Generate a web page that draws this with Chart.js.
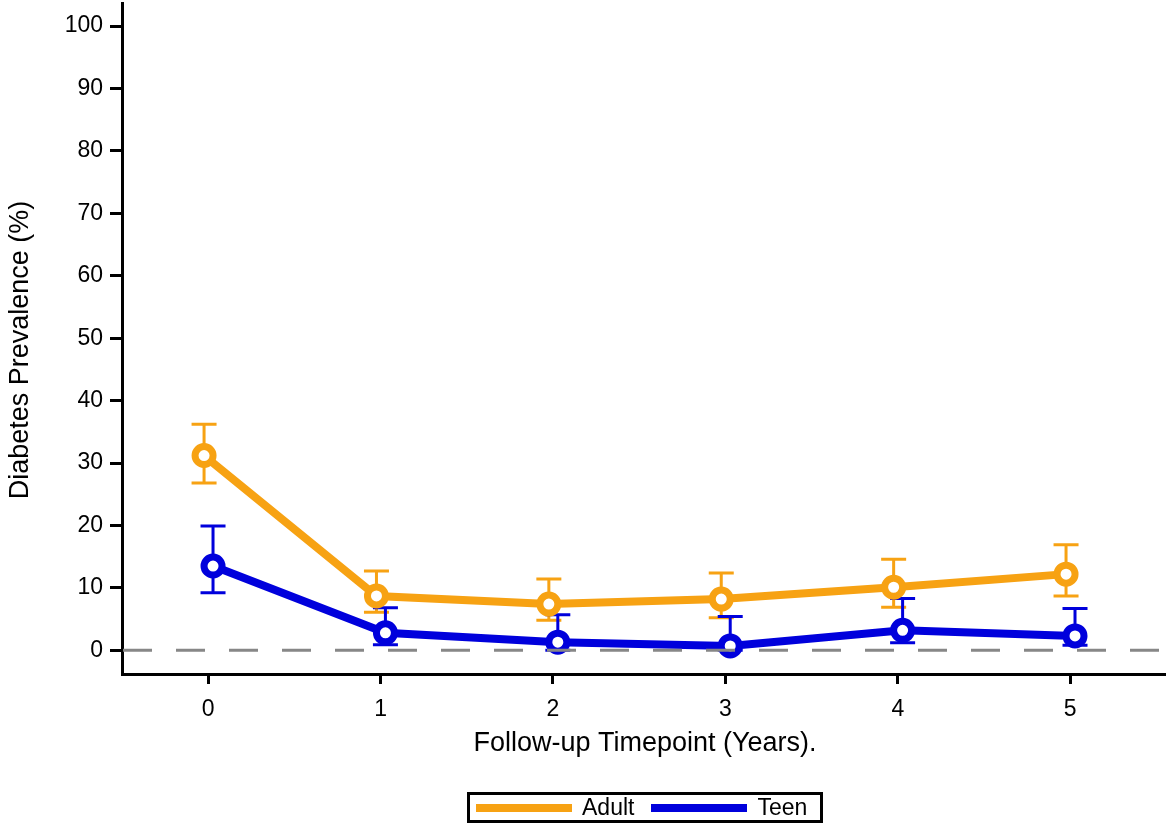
<!DOCTYPE html>
<html>
<head>
<meta charset="utf-8">
<script src="https://cdn.jsdelivr.net/npm/chart.js@4"></script>
<style>
  html, body { margin: 0; padding: 0; background: #fff; }
  #wrap { position: relative; width: 1168px; height: 825px; }
  #legend {
    position: absolute; left: 467px; top: 792px; width: 350px; height: 25px;
    border: 3px solid #000; box-sizing: content-box;
    font: 23px "Liberation Sans", Arial, sans-serif; color: #000;
    display: flex; align-items: center;
  }
  #legend .item { display: flex; align-items: center; margin-left: 17px; }
  #legend .item:first-child { margin-left: 6px; }
  #legend .swatch { width: 96px; height: 8px; margin-right: 10px; }
</style>
</head>
<body>
<div id="wrap">
  <canvas id="chart" width="1168" height="825"></canvas>
  <div id="legend"></div>
</div>
<script>
// follow-up timepoints (years)
const timepoints = [0, 1, 2, 3, 4, 5];
const yTicks = [0, 10, 20, 30, 40, 50, 60, 70, 80, 90, 100];

// Adult prevalence (%) with 95% CI
const adultPrev = [31.2, 8.7, 7.4, 8.2, 10.1, 12.2];
const adultLow  = [26.8, 6.1, 4.8, 5.2, 6.9, 8.7];
const adultHigh = [36.2, 12.7, 11.4, 12.4, 14.6, 16.9];

// Teen prevalence (%) with 95% CI
const teenPrev = [13.5, 2.8, 1.3, 0.7, 3.2, 2.3];
const teenLow  = [9.2, 0.9, 0, 0, 1.2, 0.8];
const teenHigh = [19.9, 6.8, 5.7, 5.4, 8.3, 6.7];

const ORANGE = '#F7A213';
const BLUE = '#0000DC';
const FONT = '"Liberation Sans", Arial, sans-serif';

function makePoints(vals, shift) {
  return timepoints.map((t, i) => ({ x: t + shift, y: vals[i] }));
}

const errorBars = {
  id: 'errorBars',
  beforeDatasetsDraw(chart) {
    const { ctx, scales: { x, y } } = chart;
    chart.data.datasets.forEach((ds) => {
      ctx.save();
      ctx.strokeStyle = ds.borderColor;
      ctx.lineWidth = 3;
      ds.data.forEach((p, i) => {
        const px = x.getPixelForValue(p.x);
        const top = y.getPixelForValue(ds.high[i]);
        const bot = y.getPixelForValue(ds.low[i]);
        ctx.beginPath();
        ctx.moveTo(px, top); ctx.lineTo(px, bot);
        ctx.moveTo(px - 12.5, top); ctx.lineTo(px + 12.5, top);
        ctx.moveTo(px - 12.5, bot); ctx.lineTo(px + 12.5, bot);
        ctx.stroke();
      });
      ctx.restore();
    });
  },
  afterDatasetsDraw(chart) {
    // dashed reference line at 0
    const { ctx, chartArea, scales: { y } } = chart;
    const py = y.getPixelForValue(0);
    ctx.save();
    ctx.strokeStyle = '#878787';
    ctx.lineWidth = 3;
    ctx.setLineDash([29, 24]);
    ctx.beginPath();
    ctx.moveTo(chartArea.left + 1, py);
    ctx.lineTo(chartArea.right, py);
    ctx.stroke();
    ctx.restore();
  },
  afterDraw(chart) {
    const { ctx } = chart;
    ctx.save();
    ctx.fillStyle = '#000';
    ctx.font = '27px ' + FONT;
    ctx.textAlign = 'center';
    ctx.textBaseline = 'middle';
    ctx.fillText('Follow-up Timepoint (Years).', 645, 744);
    ctx.translate(21, 350);
    ctx.rotate(-Math.PI / 2);
    ctx.fillText('Diabetes Prevalence (%)', 0, 0);
    ctx.restore();
  }
};

const datasets = [
  { label: 'Adult', data: makePoints(adultPrev, -0.024), low: adultLow, high: adultHigh,
    borderColor: ORANGE, pointBorderColor: ORANGE },
  { label: 'Teen', data: makePoints(teenPrev, 0.028), low: teenLow, high: teenHigh,
    borderColor: BLUE, pointBorderColor: BLUE }
];
datasets.forEach(ds => Object.assign(ds, {
  borderWidth: 8,
  pointRadius: 9,
  pointBorderWidth: 7,
  pointBackgroundColor: '#fff',
  tension: 0
}));

new Chart(document.getElementById('chart'), {
  type: 'line',
  data: { datasets },
  plugins: [errorBars],
  options: {
    responsive: false,
    animation: false,
    layout: { autoPadding: false, padding: { top: 3, right: 3, left: 0, bottom: 0 } },
    plugins: { legend: { display: false }, tooltip: { enabled: false } },
    scales: {
      x: {
        type: 'linear',
        min: -0.5,
        max: 5.55,
        afterFit: (s) => { s.height = 151; s.paddingLeft = 0; s.paddingRight = 0; },
        afterBuildTicks: (s) => { s.ticks = timepoints.map(v => ({ value: v })); },
        border: { display: true, color: '#000', width: 3 },
        grid: { display: true, drawOnChartArea: false, drawTicks: true, tickLength: 10, tickWidth: 3, tickColor: '#000' },
        ticks: { color: '#000', font: { family: FONT, size: 23 }, padding: 12, maxRotation: 0 }
      },
      y: {
        min: -3.8,
        max: 103.7,
        afterFit: (s) => { s.width = 122; s.paddingTop = 0; s.paddingBottom = 0; },
        afterBuildTicks: (s) => { s.ticks = yTicks.map(v => ({ value: v })); },
        border: { display: true, color: '#000', width: 3 },
        grid: { display: true, drawOnChartArea: false, drawTicks: true, tickLength: 12, tickWidth: 3, tickColor: '#000' },
        ticks: { color: '#000', font: { family: FONT, size: 23 }, padding: 7 }
      }
    }
  }
});

// boxed legend under the chart
const legend = document.getElementById('legend');
datasets.forEach(ds => {
  const item = document.createElement('div');
  item.className = 'item';
  item.innerHTML = `<span class="swatch" style="background:${ds.borderColor}"></span><span>${ds.label}</span>`;
  legend.appendChild(item);
});
</script>
</body>
</html>
